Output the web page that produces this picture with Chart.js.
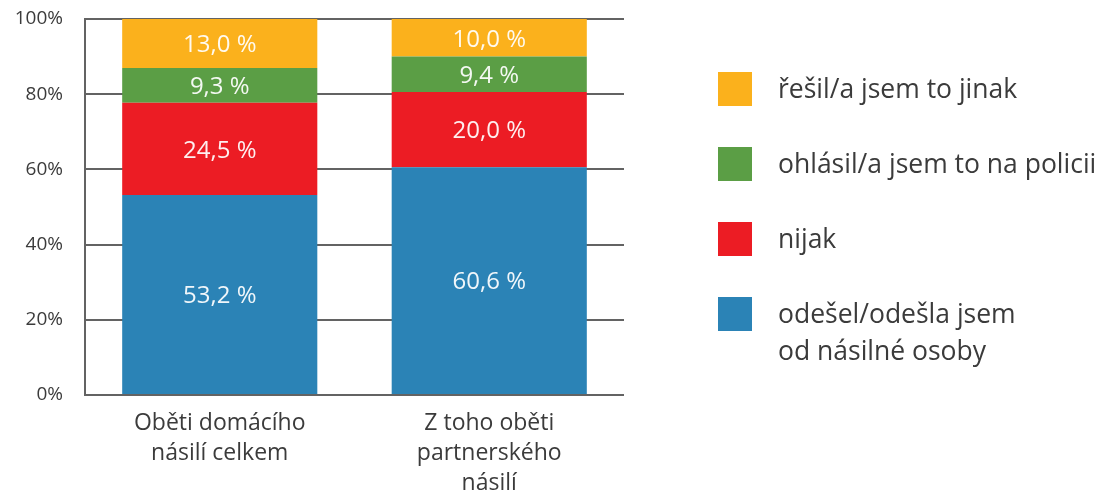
<!DOCTYPE html>
<html>
<head>
<meta charset="utf-8">
<script src="https://cdn.jsdelivr.net/npm/chart.js@4/dist/chart.umd.min.js"></script>
<style>
  html, body { margin: 0; padding: 0; background: #fff; }
  #wrap { width: 1105px; height: 496px; }
</style>
</head>
<body>
<div id="wrap"><canvas id="chart" width="1105" height="496"></canvas></div>
<script>
// data
const categories = [
    ["Oběti domácího", "násilí celkem"],
    ["Z toho oběti", "partnerského", "násilí"],
];
const seriesNames = [
    ["odešel/odešla jsem", "od násilné osoby"],
    ["nijak"],
    ["ohlásil/a jsem to na policii"],
    ["řešil/a jsem to jinak"],
];
const leftValues = [53.2, 60.6];
const nothingValues = [24.5, 20.0];
const policeValues = [9.3, 9.4];
const otherValues = [13.0, 10.0];
const seriesColors = ["#2b83b6", "#ec1c24", "#5b9e45", "#fbb11c"];
const yTicks = [0, 20, 40, 60, 80, 100];

const FONT = "'Open Sans', 'DejaVu Sans', sans-serif";
const TEXT = "#3b3b3b";
const GRID = "#636363";

const fmt = (v) => v.toFixed(1).replace(".", ",") + " %";

// values written inside the stacked segments
const segmentLabels = {
    id: "segmentLabels",
    afterDatasetsDraw(chart) {
        const ctx = chart.ctx;
        ctx.save();
        ctx.font = "24px " + FONT;
        ctx.fillStyle = "rgba(255,255,255,0.93)";
        ctx.textAlign = "center";
        ctx.textBaseline = "middle";
        chart.data.datasets.forEach((ds, i) => {
            const meta = chart.getDatasetMeta(i);
            meta.data.forEach((bar, j) => {
                const cy = (bar.y + bar.base) / 2;
                ctx.fillText(fmt(ds.data[j]), bar.x, cy + 2);
            });
        });
        ctx.restore();
    },
};

// legend on the right, top item = last dataset
const sideLegend = {
    id: "sideLegend",
    afterDraw(chart) {
        const ctx = chart.ctx;
        const area = chart.chartArea;
        const boxX = area.right + 94;
        const textX = boxX + 60;
        const box = 34;
        let cy = area.top + 70;
        ctx.save();
        ctx.font = "26.5px " + FONT;
        ctx.textBaseline = "middle";
        ctx.textAlign = "left";
        const items = chart.data.datasets.slice().reverse();
        items.forEach((ds) => {
            ctx.fillStyle = ds.backgroundColor;
            ctx.fillRect(boxX, cy - box / 2, box, box);
            ctx.fillStyle = TEXT;
            ds.legendLines.forEach((line, k) => {
                ctx.fillText(line, textX, cy + 1 + k * 37);
            });
            cy += 75;
        });
        ctx.restore();
    },
};

const datasetValues = [leftValues, nothingValues, policeValues, otherValues];

const config = {
    type: "bar",
    data: {
        labels: categories,
        datasets: seriesNames.map((name, i) => ({
            label: name.join(" "),
            legendLines: name,
            data: datasetValues[i],
            backgroundColor: seriesColors[i],
            borderWidth: 0,
            barPercentage: 0.724,
            categoryPercentage: 1.0,
        })),
    },
    options: {
        responsive: false,
        animation: false,
        layout: {
            padding: { top: 19, right: 481, bottom: 0, left: 0 },
        },
        plugins: {
            legend: { display: false },
            tooltip: { enabled: false },
            title: { display: false },
        },
        scales: {
            x: {
                stacked: true,
                grid: { display: false, drawTicks: false },
                border: { display: false },
                ticks: {
                    color: TEXT,
                    font: { family: FONT, size: 23, lineHeight: 1.3 },
                    padding: 14,
                    maxRotation: 0,
                    autoSkip: false,
                },
                afterFit(scale) {
                    scale.height = 101;
                },
            },
            y: {
                stacked: true,
                min: 0,
                max: 100,
                afterBuildTicks(scale) {
                    scale.ticks = yTicks.map((v) => ({ value: v }));
                },
                grid: {
                    color: GRID,
                    lineWidth: 2,
                    drawTicks: false,
                },
                border: { display: true, color: GRID, width: 2 },
                ticks: {
                    color: TEXT,
                    font: { family: FONT, size: 19 },
                    padding: 22,
                    callback: (v) => v + "%",
                },
                afterFit(scale) {
                    scale.width = 85;
                    // tick padding should not push the plot down
                    scale.paddingTop = 0;
                    scale.paddingBottom = 0;
                },
            },
        },
    },
    plugins: [segmentLabels, sideLegend],
};

new Chart(document.getElementById("chart"), config);
</script>
</body>
</html>
